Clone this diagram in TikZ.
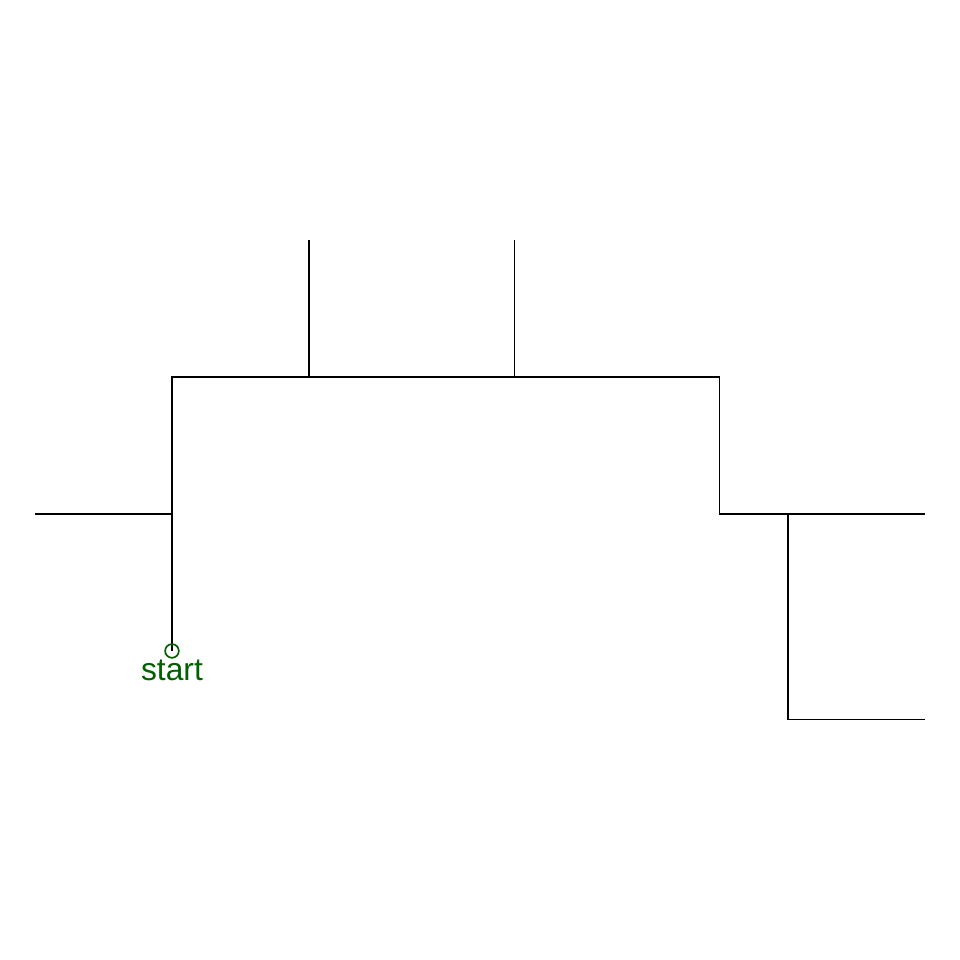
\documentclass[tikz,border=0pt]{standalone}
\usepackage{fontspec}
\setmainfont{Liberation Sans}
\definecolor{startgreen}{RGB}{0,96,0}
\begin{document}
\begin{tikzpicture}[
  wire/.style={draw=black, line width=0.3pt},
  startmark/.style={circle, draw=startgreen, line width=0.35pt, minimum size=0.1cm, inner sep=0pt},
  startlabel/.style={text=startgreen, font=\fontsize{6.6}{8}\selectfont, inner sep=0pt}
]
\useasboundingbox (-1.256,-2.257) rectangle (5.755,4.754);
\coordinate (s0) at (0,0);
\coordinate (a) at (0,1);
\coordinate (b) at (0,2);
\coordinate (c) at (4,2);
\coordinate (d) at (4,1);
\coordinate (e) at (5.5,1);
\coordinate (l) at (-1,1);
\coordinate (u1b) at (1,2);
\coordinate (u1t) at (1,3);
\coordinate (u2b) at (2.5,2);
\coordinate (u2t) at (2.5,3);
\coordinate (r1) at (4.5,1);
\coordinate (r2) at (4.5,-0.5);
\coordinate (r3) at (5.5,-0.5);
\draw[wire] (s0) -- (b) -- (c) -- (d) -- (e);
\draw[wire] (l) -- (a);
\draw[wire] (u1b) -- (u1t);
\draw[wire] (u2b) -- (u2t);
\draw[wire] (r1) -- (r2) -- (r3);
\node[startmark] (s) at (s0) {};
\node[startlabel, anchor=north] (sl) at (0,-0.06) {start};
\end{tikzpicture}
\end{document}
